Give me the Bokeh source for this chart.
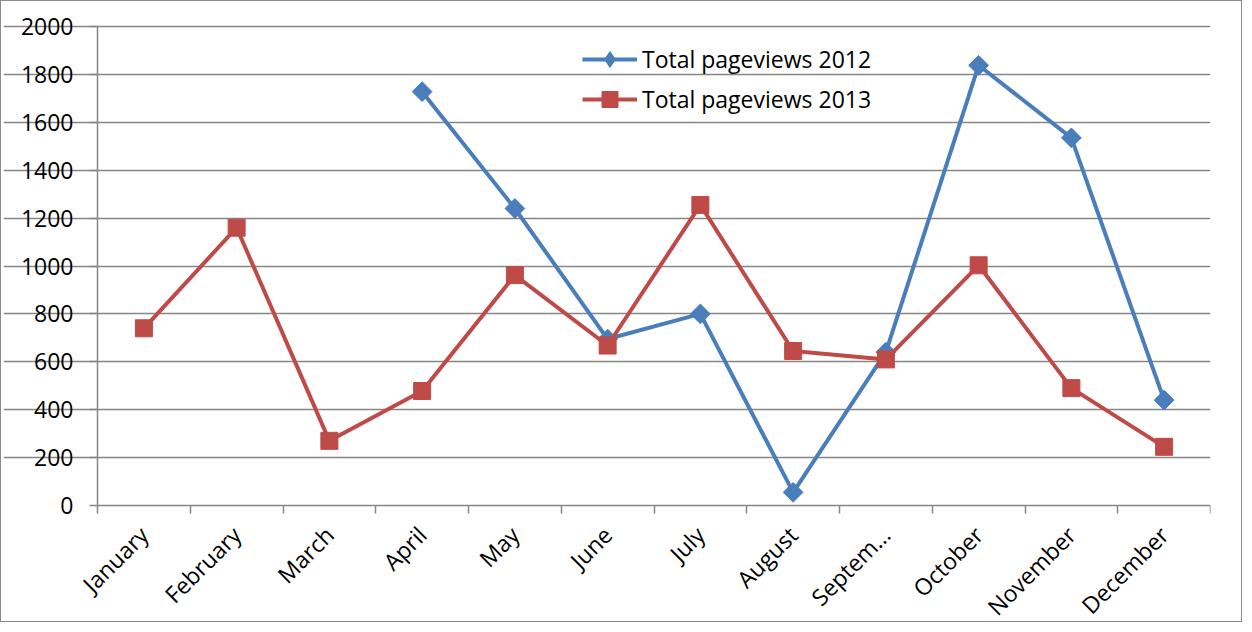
import math
from bokeh.plotting import figure
from bokeh.models import Range1d, FixedTicker, Legend, LegendItem
from bokeh.embed import file_html
from bokeh.resources import INLINE

months = ["January", "February", "March", "April", "May", "June", "July",
          "August", "Septem…", "October", "November", "December"]
pv2012 = [float("nan"), float("nan"), float("nan"), 1728, 1240, 695, 800, 55, 640, 1838, 1535, 440]
pv2013 = [740, 1160, 270, 478, 962, 668, 1255, 645, 610, 1003, 490, 245]
y_ticks = list(range(0, 2001, 200))

n = len(months)
xs = [i + 0.5 for i in range(n)]

FONT = "Open Sans"
FSIZE = "23px"
BLUE = "#4A7EBB"
RED = "#BE4B48"
GRAY = "#868686"

# layout: plot area is 1113x479 px at (96, 25) in the canvas; the frame is
# extended on all sides so the axes (placed at x=0 / y=0) have room for labels
W, H = 1242, 622
TOP, BOTTOM, LEFT, RIGHT = 2, 2, 2, 33
FRAME_H = H - TOP - BOTTOM
FRAME_W = W - LEFT - RIGHT
DATA_H, DATA_W, DATA_LEFT, DATA_TOP = 479, 1113, 96, 25
y_top = y_ticks[-1]
y_max = y_top + (DATA_TOP - TOP) * y_top / DATA_H
y_min = y_max - FRAME_H * y_top / DATA_H
x_min = -(DATA_LEFT - LEFT) * n / DATA_W
x_max = x_min + FRAME_W * n / DATA_W

p = figure(width=W, height=H, output_backend="svg", toolbar_location=None,
           x_range=Range1d(x_min, x_max), y_range=Range1d(y_min, y_max),
           min_border_left=LEFT, min_border_top=TOP, min_border_right=RIGHT,
           min_border_bottom=BOTTOM)
p.styles = {"border": "1px solid #8b8b8b"}
p.outline_line_color = None
p.background_fill_color = "white"
p.border_fill_color = "white"

# x axis at value 0, with boundary tick marks and centred month labels
p.xaxis.fixed_location = 0
p.xaxis.bounds = (0, n)
p.xaxis.ticker = FixedTicker(ticks=xs, minor_ticks=list(range(0, n + 1)))
p.xaxis.major_label_overrides = {x: m for x, m in zip(xs, months)}
p.xaxis.major_tick_line_color = None
p.xaxis.major_tick_out = 0
p.xaxis.major_tick_in = 0
p.xaxis.minor_tick_line_color = GRAY
p.xaxis.minor_tick_line_width = 1.5
p.xaxis.minor_tick_out = 8
p.xaxis.minor_tick_in = 0
p.xaxis.axis_line_color = GRAY
p.xaxis.axis_line_width = 1.5
p.xaxis.major_label_orientation = math.pi / 4
p.xaxis.major_label_standoff = 17
p.xaxis.major_label_text_font = FONT
p.xaxis.major_label_text_font_size = FSIZE
p.xaxis.major_label_text_color = "black"

# y axis at x=0
p.yaxis.fixed_location = 0
p.yaxis.ticker = FixedTicker(ticks=y_ticks)
p.yaxis.bounds = (0, y_top)
p.yaxis.minor_tick_line_color = None
p.yaxis.major_tick_line_color = GRAY
p.yaxis.major_tick_line_width = 1.5
p.yaxis.major_tick_out = 8
p.yaxis.major_tick_in = 0
p.yaxis.axis_line_color = GRAY
p.yaxis.axis_line_width = 1.5
p.yaxis.major_label_standoff = 16
p.yaxis.major_label_text_font = FONT
p.yaxis.major_label_text_font_size = FSIZE
p.yaxis.major_label_text_color = "black"

p.xgrid.grid_line_color = None
p.ygrid.grid_line_color = GRAY
p.ygrid.grid_line_width = 1.5
p.ygrid.ticker = FixedTicker(ticks=y_ticks[1:])
p.ygrid.bounds = (0, n)

l1 = p.line(xs, pv2012, line_color=BLUE, line_width=4)
m1 = p.scatter(xs, pv2012, marker="square", angle=math.pi / 4, size=14,
               fill_color=BLUE, line_color=BLUE)
l2 = p.line(xs, pv2013, line_color=RED, line_width=4)
m2 = p.scatter(xs, pv2013, marker="square", size=17, fill_color=RED, line_color=RED)

# legend-only glyph: the legend does not apply marker angles
d1 = p.scatter([float("nan")], [float("nan")], marker="diamond",
               fill_color=BLUE, line_color=BLUE)

legend = Legend(items=[LegendItem(label="Total pageviews 2012", renderers=[l1, d1]),
                       LegendItem(label="Total pageviews 2013", renderers=[l2, m2])],
                location=(485 + DATA_LEFT - LEFT, FRAME_H - (DATA_TOP - TOP) - 93),
                orientation="vertical",
                border_line_color=None, background_fill_alpha=0,
                glyph_width=55, glyph_height=40, label_height=40, spacing=0,
                padding=0, margin=0, label_standoff=5,
                label_text_font=FONT, label_text_font_size=FSIZE,
                label_text_color="black")
p.add_layout(legend, "center")

open("out.html", "w").write(file_html(p, INLINE))
